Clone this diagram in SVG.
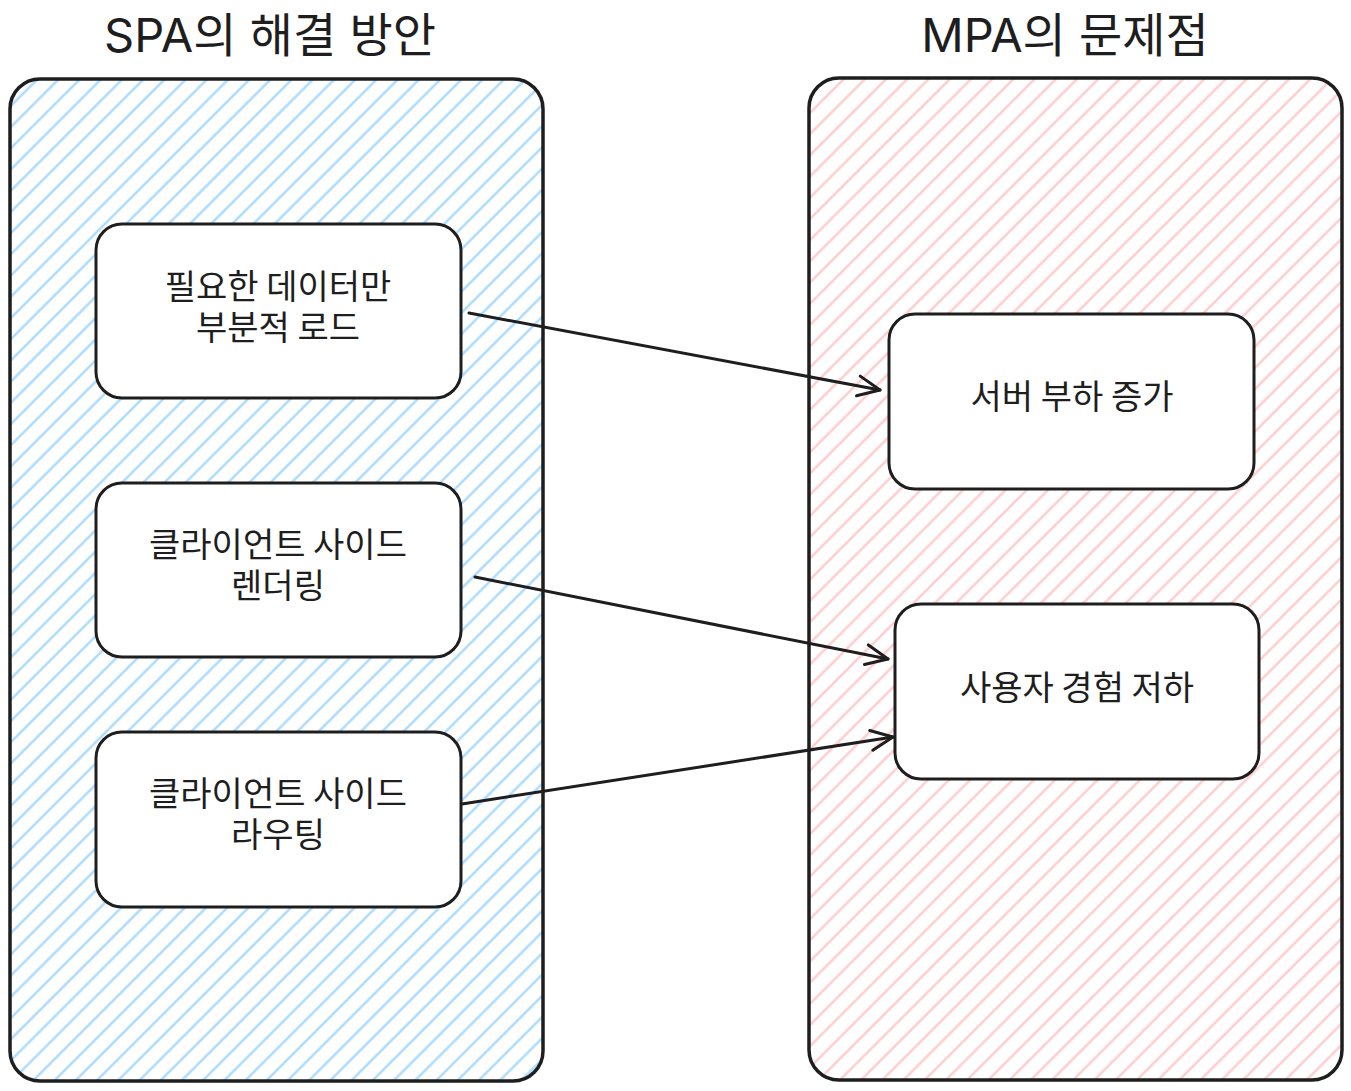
<svg xmlns="http://www.w3.org/2000/svg" width="1351" height="1091" viewBox="0 0 1351 1091">
<defs>
<pattern id="hb" patternUnits="userSpaceOnUse" width="15" height="15" patternTransform="rotate(-45)">
<line x1="0" y1="7.5" x2="15" y2="7.5" stroke="#a5d8ff" stroke-width="2.3"/>
</pattern>
<pattern id="hr" patternUnits="userSpaceOnUse" width="15" height="15" patternTransform="rotate(-45)">
<line x1="0" y1="7.5" x2="15" y2="7.5" stroke="#ffc9c9" stroke-width="2.3"/>
</pattern>
<marker id="ah" markerUnits="userSpaceOnUse" markerWidth="40" markerHeight="40" refX="30" refY="20" orient="auto" viewBox="0 0 40 40">
<path d="M8 10 L30 20 L8 30" fill="none" stroke="#1e1e1e" stroke-width="3" stroke-linecap="round" stroke-linejoin="round"/>
</marker>
</defs>
<style>
.cont{stroke:#1e1e1e;stroke-width:3.5}
.node rect{fill:#fff;stroke:#1e1e1e;stroke-width:3}
.lbl{font-family:"Noto Sans CJK KR",sans-serif;font-size:34px;fill:#1e1e1e;text-anchor:middle}
.ttl{font-family:Inter,"Noto Sans CJK KR",sans-serif;font-size:47px;fill:#1e1e1e;text-anchor:middle}
.edge{fill:none;stroke:#1e1e1e;stroke-width:3;stroke-linecap:round;marker-end:url(#ah)}
</style>
<g id="spa-group">
<rect class="cont" x="10" y="79" width="533" height="1002" rx="30" fill="url(#hb)"/>
<text class="ttl" x="270" y="52">SPA의 해결 방안</text>
</g>
<g id="mpa-group">
<rect class="cont" x="809" y="78" width="533" height="1002" rx="30" fill="url(#hr)"/>
<text class="ttl" x="1065" y="52">MPA의 문제점</text>
</g>
<g id="n1" class="node">
<rect x="96" y="224" width="365" height="174" rx="26"/>
<text class="lbl" x="278" y="299"><tspan x="278">필요한 데이터만</tspan><tspan x="278" dy="41">부분적 로드</tspan></text>
</g>
<g id="n2" class="node">
<rect x="96" y="483" width="365" height="174" rx="26"/>
<text class="lbl" x="278" y="557"><tspan x="278">클라이언트 사이드</tspan><tspan x="278" dy="41">렌더링</tspan></text>
</g>
<g id="n3" class="node">
<rect x="96" y="732" width="365" height="175" rx="26"/>
<text class="lbl" x="278" y="806"><tspan x="278">클라이언트 사이드</tspan><tspan x="278" dy="41">라우팅</tspan></text>
</g>
<g id="n4" class="node">
<rect x="889" y="314" width="365" height="175" rx="26"/>
<text class="lbl" x="1072" y="409">서버 부하 증가</text>
</g>
<g id="n5" class="node">
<rect x="895" y="604" width="364" height="175" rx="26"/>
<text class="lbl" x="1077" y="700">사용자 경험 저하</text>
</g>
<g id="edges">
<path class="edge" d="M469 313 L880 390"/>
<path class="edge" d="M475 577 L888 659"/>
<path class="edge" d="M462 804 L893 737"/>
</g>
</svg>
